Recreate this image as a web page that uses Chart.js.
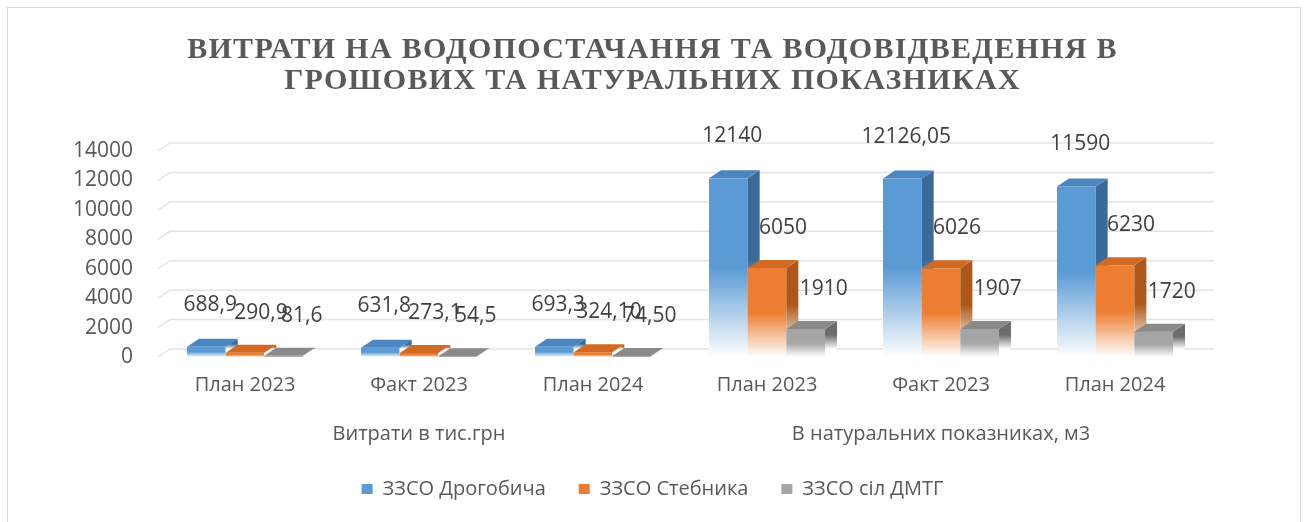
<!DOCTYPE html>
<html lang="uk">
<head>
<meta charset="utf-8">
<title>Витрати на водопостачання</title>
<script src="https://cdn.jsdelivr.net/npm/chart.js@4.4.1/dist/chart.umd.min.js"></script>
<style>
  html, body { margin: 0; padding: 0; background: #fff; overflow: hidden; }
  #wrap { position: relative; width: 1305px; height: 522px; }
  #frame { position: absolute; left: 7px; top: 7px; width: 1294px; height: 540px;
           border: 1.5px solid #d9d9d9; box-sizing: border-box; pointer-events: none; }
</style>
</head>
<body>
<div id="wrap">
  <canvas id="myChart" width="1305" height="522"></canvas>
  <div id="frame"></div>
</div>
<script>
// Дані
const categories = ['План 2023', 'Факт 2023', 'План 2024', 'План 2023', 'Факт 2023', 'План 2024'];
const groups = ['Витрати в тис.грн', 'В натуральних показниках, м3'];
const seriesNames = ['ЗЗСО Дрогобича', 'ЗЗСО Стебника', 'ЗЗСО сіл ДМТГ'];

const drohobych = [688.9, 631.8, 693.3, 12140, 12126.05, 11590];
const stebnyk = [290.9, 273.1, 324.1, 6050, 6026, 6230];
const villages = [81.6, 54.5, 74.5, 1910, 1907, 1720];

// Підписи як у таблиці (з комами)
const drohobychText = ['688,9', '631,8', '693,3', '12140', '12126,05', '11590'];
const stebnykText = ['290,9', '273,1', '324,10', '6050', '6026', '6230'];
const villagesText = ['81,6', '54,5', '74,50', '1910', '1907', '1720'];

const yMin = 0, yMax = 14000, yStep = 2000;

// Кольори: передня грань, верх, бік
const colors = [
    { front: '#5B9BD5', top: '#4C86C0', side: '#3A6A9A' },
    { front: '#ED7D31', top: '#D36A24', side: '#AE5718' },
    { front: '#A5A5A5', top: '#8A8A8A', side: '#6C6C6C' }
];

const textColor = '#595959';
const sansFont = 'Open Sans';
const DX = 12, DY = -8; // глибина 3D

function fadeGrad(ctx, c, y0, y1) {
    const g = ctx.createLinearGradient(0, y0, 0, y1);
    g.addColorStop(0, c);
    g.addColorStop(0.5, c);
    g.addColorStop(1, 'rgba(255,255,255,1)');
    return g;
}

// розрядка літер у заголовку
const titleSpacing = {
    id: 'titleSpacing',
    afterLayout(chart) {
        const tb = chart.titleBlock;
        if (!tb || tb._spaced) return;
        const draw = tb.draw.bind(tb);
        tb.draw = function () {
            chart.ctx.letterSpacing = '1.3px';
            draw();
            chart.ctx.letterSpacing = '0px';
        };
        tb._spaced = true;
    }
};

const bars3d = {
    id: 'bars3d',
    beforeDatasetsDraw(chart) {
        // сітка на задній стінці
        const { ctx, chartArea, scales } = chart;
        ctx.save();
        ctx.strokeStyle = '#e4e4e4';
        ctx.lineWidth = 1.5;
        scales.y.ticks.forEach(t => {
            const y = scales.y.getPixelForValue(t.value);
            ctx.beginPath();
            ctx.moveTo(chartArea.left, y);
            ctx.lineTo(chartArea.left + DX, y + DY);
            ctx.lineTo(chartArea.right + DX, y + DY);
            ctx.stroke();
        });
        ctx.restore();
    },
    beforeDatasetDraw() {
        return false;
    },
    afterDatasetsDraw(chart) {
        const ctx = chart.ctx;
        const n = chart.data.labels.length;
        ctx.save();
        for (let i = 0; i < n; i++) {
            chart.data.datasets.forEach((ds, d) => {
                const el = chart.getDatasetMeta(d).data[i];
                const { x, y, base, width } = el.getProps(['x', 'y', 'base', 'width'], true);
                const l = x - width / 2, r = x + width / 2;
                const c = colors[d];
                // передня грань
                ctx.fillStyle = fadeGrad(ctx, c.front, y, base);
                ctx.fillRect(l, y, width, base - y);
                // бокова грань
                ctx.fillStyle = fadeGrad(ctx, c.side, y + DY, base + DY);
                ctx.beginPath();
                ctx.moveTo(r, y);
                ctx.lineTo(r + DX, y + DY);
                ctx.lineTo(r + DX, base + DY);
                ctx.lineTo(r, base);
                ctx.closePath();
                ctx.fill();
                // верх
                ctx.fillStyle = c.top;
                ctx.beginPath();
                ctx.moveTo(l, y);
                ctx.lineTo(l + DX, y + DY);
                ctx.lineTo(r + DX, y + DY);
                ctx.lineTo(r, y);
                ctx.closePath();
                ctx.fill();
            });
        }
        // підписи значень
        const labelDx = [4, 16, 18];
        const labelDy = [42, 40, 40];
        ctx.fillStyle = '#404040';
        ctx.font = '21px "' + sansFont + '"';
        ctx.textAlign = 'center';
        ctx.textBaseline = 'middle';
        chart.data.datasets.forEach((ds, d) => {
            chart.getDatasetMeta(d).data.forEach((el, i) => {
                ctx.fillText(ds.valueText[i], el.x + labelDx[d], el.y - labelDy[d]);
            });
        });
        ctx.restore();
    }
};

const seriesValues = [drohobych, stebnyk, villages];
const seriesText = [drohobychText, stebnykText, villagesText];

const ctx = document.getElementById('myChart').getContext('2d');
new Chart(ctx, {
    type: 'bar',
    data: {
        labels: categories,
        datasets: seriesNames.map((name, d) => ({
            label: name,
            data: seriesValues[d],
            valueText: seriesText[d],
            backgroundColor: colors[d].front,
            borderWidth: 0,
            categoryPercentage: 0.667,
            barPercentage: 1
        }))
    },
    options: {
        responsive: false,
        animation: false,
        layout: { padding: { left: 0, right: 0, top: 0, bottom: 13 } },
        plugins: {
            title: {
                display: true,
                text: ['ВИТРАТИ НА ВОДОПОСТАЧАННЯ ТА ВОДОВІДВЕДЕННЯ В', 'ГРОШОВИХ ТА НАТУРАЛЬНИХ ПОКАЗНИКАХ'],
                color: textColor,
                font: { family: 'Liberation Serif', size: 30, weight: 'bold', lineHeight: 1.05 },
                padding: { top: 34, bottom: 54 }
            },
            legend: {
                position: 'bottom',
                labels: {
                    color: textColor,
                    font: { family: sansFont, size: 20 },
                    boxWidth: 11,
                    boxHeight: 10,
                    padding: 33
                }
            },
            tooltip: { enabled: false }
        },
        scales: {
            x: {
                grid: { display: false, drawTicks: false },
                border: { display: false },
                ticks: { color: textColor, font: { family: sansFont, size: 20 }, padding: 16 },
                afterFit(scale) { scale.height = 39; }
            },
            x2: {
                type: 'category',
                labels: groups,
                position: 'bottom',
                grid: { display: false, drawTicks: false },
                border: { display: false },
                ticks: { color: textColor, font: { family: sansFont, size: 20 }, padding: 26 },
                afterFit(scale) { scale.height = 50; }
            },
            y: {
                min: yMin,
                max: yMax,
                grid: { display: false, drawTicks: false },
                border: { display: false },
                ticks: {
                    stepSize: yStep,
                    autoSkip: false,
                    color: textColor,
                    font: { family: sansFont, size: 21 },
                    padding: 25,
                    callback: v => String(v)
                },
                afterFit(scale) { scale.width = 158; }
            },
            yr: {
                type: 'linear',
                position: 'right',
                grid: { display: false, drawTicks: false },
                border: { display: false },
                ticks: { display: false },
                afterFit(scale) { scale.width = 103; }
            }
        }
    },
    plugins: [titleSpacing, bars3d]
});
</script>
</body>
</html>
